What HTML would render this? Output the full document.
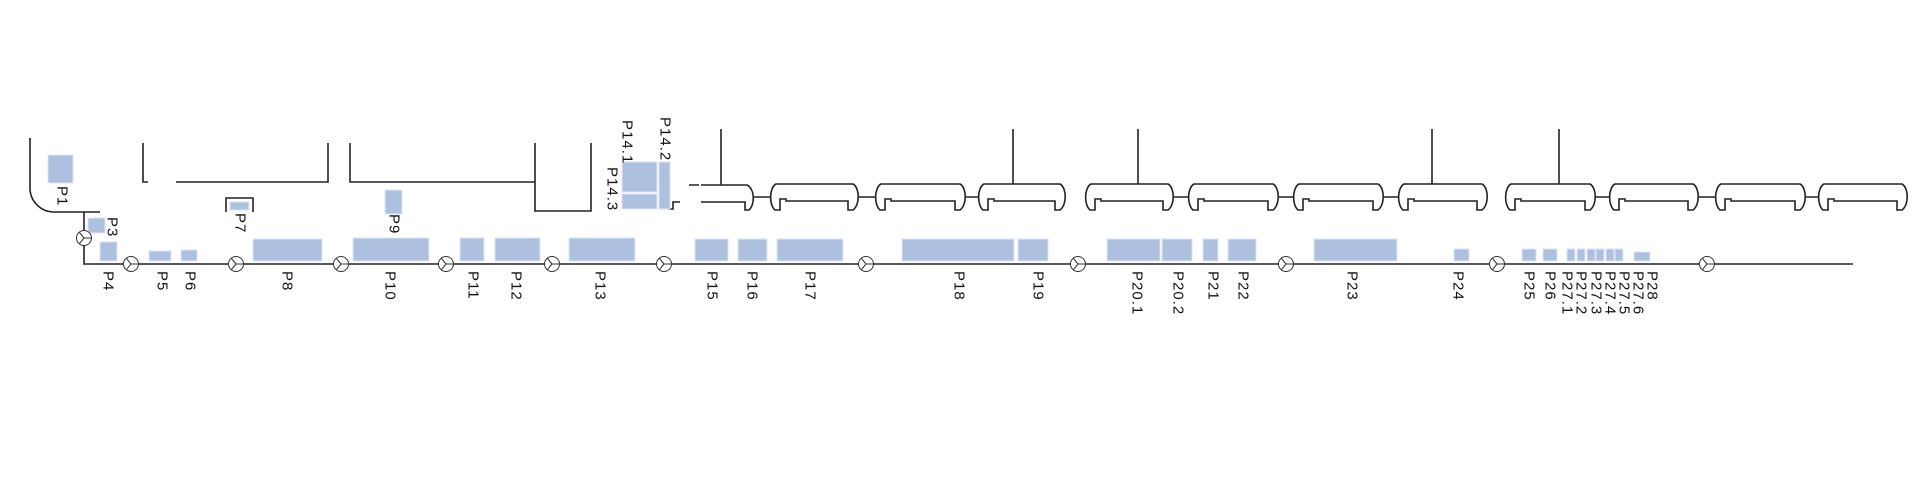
<!DOCTYPE html>
<html><head><meta charset="utf-8"><style>
html,body{margin:0;padding:0;background:#fff;}
svg{display:block}
text{font-family:"Liberation Sans",sans-serif;font-size:15px;fill:#111;letter-spacing:1px}
.r{fill:#aec0e0;stroke:#dfe6f3;stroke-width:1}
.l{fill:none;stroke:#222;stroke-width:1.6}
.c{fill:#fff;stroke:#333;stroke-width:1}
</style></head><body>
<svg width="1919" height="481" viewBox="0 0 1919 481" xmlns="http://www.w3.org/2000/svg">
<!-- left curve -->
<path class="l" d="M30,138 V188 A24,24 0 0 0 54,212 H100 M84,212 V264 H1853"/>
<!-- top brackets -->
<path class="l" d="M143,143 V182 H148 M176,182 H328 V143 M350,143 V182 H535 V211 H591 V143 M535,182 V143"/>
<!-- P7 bracket -->
<path class="l" d="M226,212 V198 H253 V212"/>
<!-- T1 partial -->
<path class="l" d="M689,185 H699 M701,185 H747 C755,189 755,205 749,210 H745 V202 H701 M680,202 H673 V209 H668"/>
<line class="l" x1="721" y1="129" x2="721" y2="185"/>
<!-- tanks -->
<g class="l">
<path d="M776,184 H853 C860,188 860,205 853,210 H848 V201 H786 V199 H780 V210 H775 C769,205 769,188 776,184 Z"/>
<path d="M881,184 H960 C967,188 967,205 960,210 H955 V201 H891 V199 H885 V210 H880 C874,205 874,188 881,184 Z"/>
<path d="M984,184 H1060 C1067,188 1067,205 1060,210 H1055 V201 H994 V199 H988 V210 H983 C977,205 977,188 984,184 Z"/>
<path d="M1091,184 H1168 C1175,188 1175,205 1168,210 H1163 V201 H1101 V199 H1095 V210 H1090 C1084,205 1084,188 1091,184 Z"/>
<path d="M1194,184 H1273 C1280,188 1280,205 1273,210 H1268 V201 H1204 V199 H1198 V210 H1193 C1187,205 1187,188 1194,184 Z"/>
<path d="M1299,184 H1378 C1385,188 1385,205 1378,210 H1373 V201 H1309 V199 H1303 V210 H1298 C1292,205 1292,188 1299,184 Z"/>
<path d="M1404,184 H1482 C1489,188 1489,205 1482,210 H1477 V201 H1414 V199 H1408 V210 H1403 C1397,205 1397,188 1404,184 Z"/>
<path d="M1511,184 H1590 C1597,188 1597,205 1590,210 H1585 V201 H1521 V199 H1515 V210 H1510 C1504,205 1504,188 1511,184 Z"/>
<path d="M1615,184 H1693 C1700,188 1700,205 1693,210 H1688 V201 H1625 V199 H1619 V210 H1614 C1608,205 1608,188 1615,184 Z"/>
<path d="M1721,184 H1800 C1807,188 1807,205 1800,210 H1795 V201 H1731 V199 H1725 V210 H1720 C1714,205 1714,188 1721,184 Z"/>
<path d="M1824,184 H1902 C1909,188 1909,205 1902,210 H1897 V201 H1834 V199 H1828 V210 H1823 C1817,205 1817,188 1824,184 Z"/>
<path d="M754,197 H770 M859,197 H875 M966,197 H978 M1174,197 H1188 M1279,197 H1293 M1384,197 H1398 M1596,197 H1609 M1699,197 H1715 M1806,197 H1818"/>
<path d="M1013,129 V184 M1138,129 V184 M1432,129 V184 M1559,129 V184"/>
</g>
<!-- rects -->
<g class="r">
<rect x="48" y="155" width="25" height="28"/>
<rect x="88" y="218" width="17" height="15"/>
<rect x="100" y="242" width="17" height="19"/>
<rect x="149" y="251" width="22" height="10"/>
<rect x="181" y="250" width="16" height="11"/>
<rect x="230" y="202" width="19" height="8"/>
<rect x="253" y="239" width="69" height="22"/>
<rect x="385" y="190" width="17" height="24"/>
<rect x="353" y="238" width="76" height="23"/>
<rect x="460" y="238" width="24" height="23"/>
<rect x="495" y="238" width="45" height="23"/>
<rect x="569" y="238" width="66" height="23"/>
<rect x="622" y="162" width="35" height="30"/>
<rect x="622" y="194" width="35" height="15"/>
<rect x="659" y="162" width="11" height="47"/>
<rect x="695" y="239" width="33" height="22"/>
<rect x="738" y="239" width="29" height="22"/>
<rect x="777" y="239" width="66" height="22"/>
<rect x="902" y="239" width="112" height="22"/>
<rect x="1018" y="239" width="30" height="22"/>
<rect x="1107" y="239" width="53" height="22"/>
<rect x="1162" y="239" width="30" height="22"/>
<rect x="1203" y="239" width="15" height="22"/>
<rect x="1228" y="239" width="28" height="22"/>
<rect x="1314" y="239" width="83" height="22"/>
<rect x="1454" y="249" width="15" height="12"/>
<rect x="1522" y="249" width="14" height="12"/>
<rect x="1543" y="249" width="14" height="12"/>
<rect x="1567" y="249" width="8" height="12"/>
<rect x="1577" y="249" width="8" height="12"/>
<rect x="1587" y="249" width="8" height="12"/>
<rect x="1596" y="249" width="8" height="12"/>
<rect x="1606" y="249" width="8" height="12"/>
<rect x="1615" y="249" width="8" height="12"/>
<rect x="1634" y="252" width="16" height="9"/>
</g>
<!-- valves -->
<defs><g id="v"><circle class="c" r="7.5"/><path d="M0,0 L-4.5,-5.5 M0,0 L-4.5,5.5 M0,0 H7.5" stroke="#333" stroke-width="1" fill="none"/></g></defs>
<use href="#v" x="84" y="238"/>
<use href="#v" x="131" y="264"/>
<use href="#v" x="236" y="264"/>
<use href="#v" x="341" y="264"/>
<use href="#v" x="446" y="264"/>
<use href="#v" x="552" y="264"/>
<use href="#v" x="664" y="264"/>
<use href="#v" x="866" y="264"/>
<use href="#v" x="1078" y="264"/>
<use href="#v" x="1286" y="264"/>
<use href="#v" x="1497" y="264"/>
<use href="#v" x="1707" y="264"/>
<!-- labels -->
<g dominant-baseline="central">
<text transform="translate(62,186) rotate(90)">P1</text>
<text transform="translate(112,217) rotate(90)">P3</text>
<text transform="translate(240,213) rotate(90)">P7</text>
<text transform="translate(394,214) rotate(90)">P9</text>
<text transform="translate(627,120) rotate(90)">P14.1</text>
<text transform="translate(665,117) rotate(90)">P14.2</text>
<text transform="translate(612,167) rotate(90)">P14.3</text>
<text transform="translate(108,271) rotate(90)">P4</text>
<text transform="translate(162,271) rotate(90)">P5</text>
<text transform="translate(190,271) rotate(90)">P6</text>
<text transform="translate(287,271) rotate(90)">P8</text>
<text transform="translate(390,271) rotate(90)">P10</text>
<text transform="translate(473,271) rotate(90)">P11</text>
<text transform="translate(516,271) rotate(90)">P12</text>
<text transform="translate(600,271) rotate(90)">P13</text>
<text transform="translate(712,271) rotate(90)">P15</text>
<text transform="translate(752,271) rotate(90)">P16</text>
<text transform="translate(810,271) rotate(90)">P17</text>
<text transform="translate(959,271) rotate(90)">P18</text>
<text transform="translate(1038,271) rotate(90)">P19</text>
<text transform="translate(1137,271) rotate(90)">P20.1</text>
<text transform="translate(1178,271) rotate(90)">P20.2</text>
<text transform="translate(1213,271) rotate(90)">P21</text>
<text transform="translate(1243,271) rotate(90)">P22</text>
<text transform="translate(1352,271) rotate(90)">P23</text>
<text transform="translate(1458,271) rotate(90)">P24</text>
<text transform="translate(1529,271) rotate(90)">P25</text>
<text transform="translate(1550,271) rotate(90)">P26</text>
<text transform="translate(1567,271) rotate(90)">P27.1</text>
<text transform="translate(1581,271) rotate(90)">P27.2</text>
<text transform="translate(1596,271) rotate(90)">P27.3</text>
<text transform="translate(1610,271) rotate(90)">P27.4</text>
<text transform="translate(1624,271) rotate(90)">P27.5</text>
<text transform="translate(1638,271) rotate(90)">P27.6</text>
<text transform="translate(1652,271) rotate(90)">P28</text>
</g>
</svg>
</body></html>
